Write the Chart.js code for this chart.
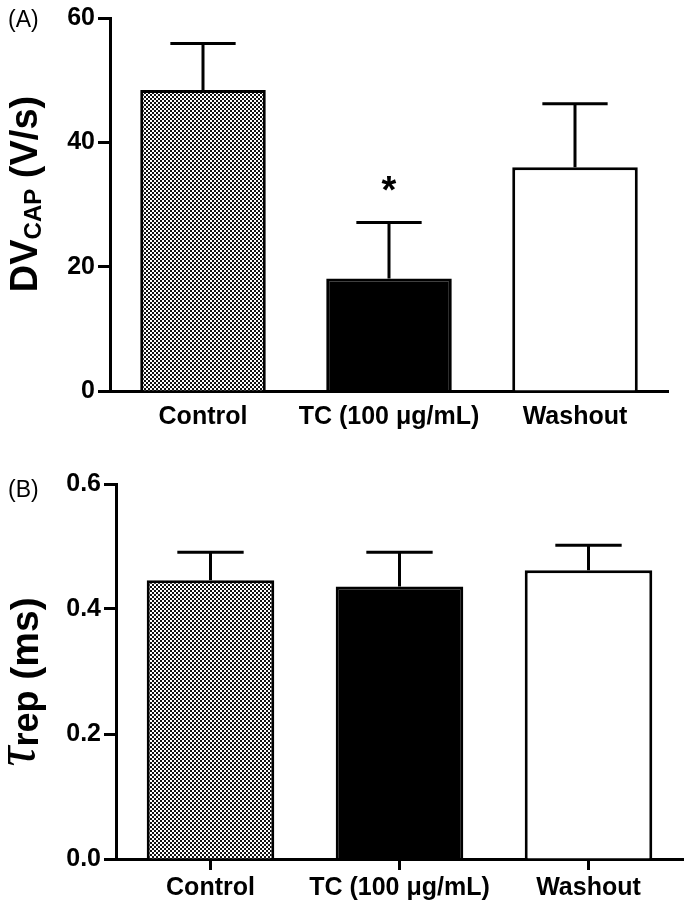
<!DOCTYPE html>
<html>
<head>
<meta charset="utf-8">
<script src="https://cdn.jsdelivr.net/npm/chart.js@4.4.1/dist/chart.umd.min.js"></script>
<style>
  html, body { margin: 0; padding: 0; background: #fff; }
  #wrapA { position: absolute; left: 0; top: 0; width: 688px; height: 440px; }
  #wrapB { position: absolute; left: 0; top: 440px; width: 688px; height: 471px; }
  .tag { position: absolute; left: 8px; font: 23px 'Liberation Sans', Arial, sans-serif; line-height: 1; }
</style>
</head>
<body>
<div id="wrapA"><canvas id="chartA"></canvas></div>
<div id="wrapB"><canvas id="chartB"></canvas></div>
<div class="tag" style="top:8px">(A)</div>
<div class="tag" style="top:478px">(B)</div>
<script>
// data
const groups = ['Control', 'TC (100 μg/mL)', 'Washout'];
const dvMean = [48.4, 18.1, 36.0];
const dvSem = [7.5, 9.0, 10.2];
const dvStars = ['', '*', ''];
const dvTicks = [0, 20, 40, 60];
const tauMean = [0.446, 0.436, 0.462];
const tauSem = [0.045, 0.055, 0.040];
const tauTicks = [0.0, 0.2, 0.4, 0.6];

const FONT = "'Liberation Sans', Arial, sans-serif";
Chart.defaults.font.family = FONT;
Chart.defaults.color = '#000';

function checker() {
  const c = document.createElement('canvas');
  c.width = 4; c.height = 4;
  const g = c.getContext('2d');
  g.fillStyle = '#fff'; g.fillRect(0, 0, 4, 4);
  g.fillStyle = '#111'; g.fillRect(0, 0, 2, 2); g.fillRect(2, 2, 2, 2);
  return g.createPattern(c, 'repeat');
}

// upper error bars + significance mark
const errorBars = {
  id: 'errorBars',
  afterDatasetsDraw(chart, args, opts) {
    const ctx = chart.ctx, meta = chart.getDatasetMeta(0), y = chart.scales.y;
    ctx.save();
    ctx.strokeStyle = '#000';
    ctx.lineWidth = 3;
    meta.data.forEach((bar, i) => {
      const top = y.getPixelForValue(opts.mean[i] + opts.sem[i]);
      const half = bar.width * 0.26;
      ctx.beginPath();
      ctx.moveTo(bar.x, bar.y); ctx.lineTo(bar.x, top);
      ctx.moveTo(bar.x - half, top); ctx.lineTo(bar.x + half, top);
      ctx.stroke();
      if (opts.stars && opts.stars[i]) {
        ctx.fillStyle = '#000';
        ctx.font = 'bold 38px ' + FONT;
        ctx.textAlign = 'center';
        ctx.textBaseline = 'alphabetic';
        ctx.fillText(opts.stars[i], bar.x, top - 20);
      }
    });
    ctx.restore();
  }
};

// rotated y title with subscript parts
const yTitle = {
  id: 'yTitle',
  afterDraw(chart, args, opts) {
    const ctx = chart.ctx;
    ctx.save();
    ctx.translate(opts.x, opts.y);
    ctx.rotate(-Math.PI / 2);
    ctx.fillStyle = '#000';
    ctx.textBaseline = 'alphabetic';
    let w = 0;
    opts.parts.forEach(p => { ctx.font = p.font; w += ctx.measureText(p.text).width; });
    let x = -w / 2;
    opts.parts.forEach(p => {
      ctx.font = p.font;
      ctx.fillText(p.text, x, p.dy || 0);
      x += ctx.measureText(p.text).width;
    });
    ctx.restore();
  }
};

function makeChart(id, mean, sem, ticks, fmt, cfg) {
  return new Chart(document.getElementById(id), {
    type: 'bar',
    data: {
      labels: groups,
      datasets: [{
        data: mean,
        backgroundColor: [checker(), '#000', '#fff'],
        borderColor: '#000',
        borderWidth: 3,
        categoryPercentage: 0.675,
        barPercentage: 1
      }]
    },
    options: {
      responsive: true,
      maintainAspectRatio: false,
      animation: false,
      layout: { padding: cfg.padding },
      plugins: {
        legend: { display: false },
        tooltip: { enabled: false },
        errorBars: { mean: mean, sem: sem, stars: cfg.stars },
        yTitle: cfg.title
      },
      scales: {
        x: {
          grid: cfg.xGrid,
          border: { display: true, width: 3, color: '#000' },
          ticks: {
            padding: cfg.xPad, autoSkip: false, maxRotation: 0, minRotation: 0,
            font: { size: 25, weight: 'bold' }, color: '#000'
          },
          afterFit: s => { s.height = cfg.xHeight; }
        },
        y: {
          min: ticks[0],
          max: ticks[ticks.length - 1],
          afterBuildTicks: s => { s.ticks = ticks.map(v => ({ value: v })); },
          grid: { display: true, drawOnChartArea: false, drawTicks: true, tickLength: 12, tickWidth: 3, tickColor: '#000' },
          border: { display: true, width: 3, color: '#000' },
          ticks: { padding: 3, font: { size: 25, weight: 'bold' }, color: '#000', callback: v => fmt(v) },
          afterFit: s => { s.width = cfg.yWidth; }
        }
      }
    },
    plugins: [errorBars, yTitle]
  });
}

makeChart('chartA', dvMean, dvSem, dvTicks, v => String(v), {
  padding: { top: 17, right: 20, bottom: 0, left: 0 },
  stars: dvStars,
  xGrid: { display: false, drawTicks: false },
  xPad: 11,
  xHeight: 49,
  yWidth: 110,
  title: {
    x: 37, y: 194,
    parts: [
      { text: 'DV', font: 'bold 38px ' + FONT },
      { text: 'CAP', font: 'bold 24px ' + FONT, dy: 4 },
      { text: ' (V/s)', font: 'bold 38px ' + FONT }
    ]
  }
});

makeChart('chartB', tauMean, tauSem, tauTicks, v => v.toFixed(1), {
  padding: { top: 44, right: 5, bottom: 0, left: 0 },
  stars: null,
  xGrid: { display: true, drawOnChartArea: false, drawTicks: true, offset: false, tickLength: 11, tickWidth: 3, tickColor: '#000' },
  xPad: 3,
  xHeight: 52,
  yWidth: 116,
  title: {
    x: 38, y: 242,
    parts: [
      { text: 'τ', font: "italic 56px 'Liberation Serif', serif", dy: -4 },
      { text: 'rep', font: 'bold 36px ' + FONT },
      { text: ' (ms)', font: 'bold 39px ' + FONT }
    ]
  }
});
</script>
</body>
</html>
